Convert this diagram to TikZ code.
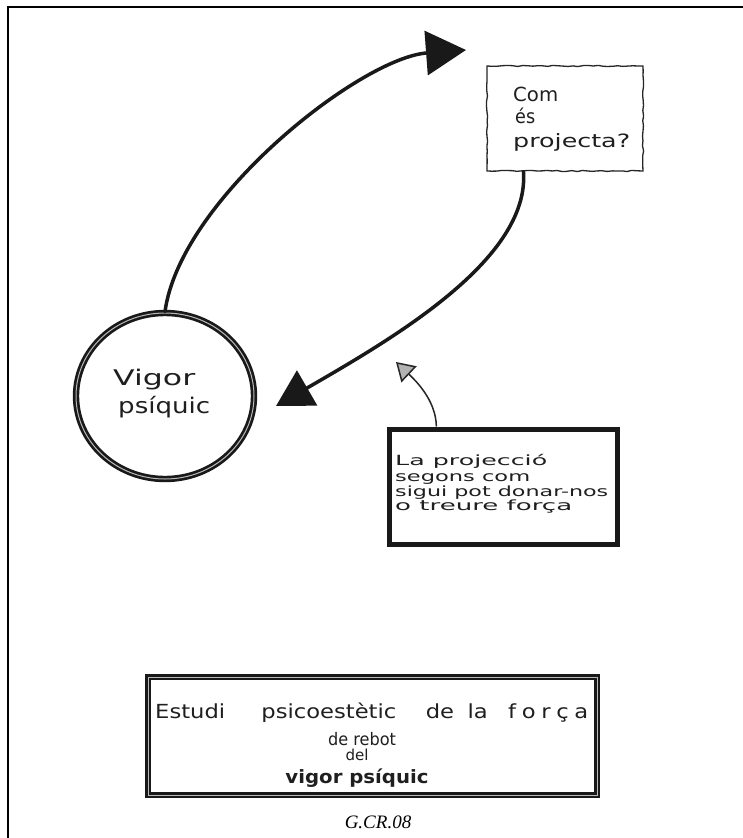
\documentclass[tikz,border=0pt]{standalone}
\usepackage{fontspec}
\newfontfamily\hand{DejaVu Sans}
\newfontfamily\captionfont{Liberation Serif}
\usetikzlibrary{arrows.meta,shapes.geometric,decorations.pathmorphing}
% text scaled to a given width W and a given height H (height of an accented capital)
\newcommand{\fitwh}[3]{\resizebox{#1}{#2}{\hand\fontsize{10}{12}\selectfont\vphantom{É}#3}}
\newcommand{\fitwhb}[3]{\resizebox{#1}{#2}{\hand\bfseries\fontsize{10}{12}\selectfont\vphantom{É}#3}}
\tikzset{
  inkline/.style={draw=black!90, line width=3.5pt, line cap=round},
  bigarrow/.style={-{Triangle[length=40pt,width=44pt]}},
  rarrow/.style={-{Triangle[length=36pt,width=40pt]}},
  smallarrow/.style={draw=black!85, line width=1.5pt, -{Triangle[length=18pt,width=22pt,fill=gray!60]}},
  thinbox/.style={draw=black!85, line width=1.3pt, inner sep=0pt, decorate,
    decoration={random steps, segment length=5pt, amplitude=0.6pt}},
  thickbox/.style={draw=black!90, line width=5pt, inner sep=0pt},
  doublebox/.style={draw=black!90, line width=2.7pt, double=gray!55, double distance=1pt, inner sep=0pt},
  handtext/.style={anchor=base west, inner sep=0pt, text=black!88},
}
\begin{document}
\begin{tikzpicture}[x=1pt,y=-1pt]
\useasboundingbox (0,0) rectangle (743,838);
\fill[white] (0,0) rectangle (743,838);
% frame
\draw[line width=1.6pt] (8,838) -- (8,7) -- (743,7);

% nodes
\node[ellipse, doublebox, minimum width=178pt, minimum height=166pt] (vigor) at (165,396) {};
\node[thinbox, minimum width=156pt, minimum height=105pt] (com) at (565,118.5) {};
\node[thickbox, minimum width=228pt, minimum height=115pt] (proj) at (503,486.5) {};
\node[doublebox, minimum width=449pt, minimum height=118pt] (title) at (372.5,736) {};

% free ends
\coordinate (tipA) at (466,50);
\coordinate (tipB) at (276,406);
\coordinate (tipC) at (396,362);

% connectors
\draw[inkline, bigarrow] (vigor.north) .. controls (180,200) and (360,58) .. (tipA);
\draw[inkline, rarrow] (com.-128) .. controls (530,260) and (390,340) .. (tipB);
\draw[smallarrow] (proj.138) .. controls (436,400) and (415,380) .. (tipC);

% texts in the circle
\node[handtext] (t1) at (113,385) {\fitwh{82pt}{20pt}{Vigor}};
\node[handtext] (t2) at (118,413) {\fitwh{92pt}{20pt}{psíquic}};

% texts in the question box
\node[handtext] (t3) at (513,101) {\fitwh{45pt}{18pt}{Com}};
\node[handtext] (t4) at (515,123) {\fitwh{20pt}{18pt}{és}};
\node[handtext] (t5) at (513,147) {\fitwh{117pt}{17pt}{projecta?}};

% texts in the projection box
\node[handtext] (t6) at (395,465) {\fitwh{152pt}{13pt}{La projecció}};
\node[handtext] (t7) at (395,481) {\fitwh{135pt}{13pt}{segons com}};
\node[handtext] (t8) at (395,496) {\fitwh{213pt}{13pt}{sigui pot donar-nos}};
\node[handtext] (t9) at (395,510) {\fitwh{177pt}{13pt}{o treure força}};

% title box
\node[handtext] (t10) at (155,718) {\fitwh{433pt}{18pt}{Estudi\hspace{1.6em}psicoestètic\hspace{1.3em}de\hspace{0.6em}la\hspace{0.9em}f\kern0.25em o\kern0.25em r\kern0.25em ç\kern0.25em a}};
\node[handtext, anchor=base] (t11) at (362,745) {\fitwh{68pt}{16pt}{de rebot}};
\node[handtext, anchor=base] (t12) at (357,760) {\fitwh{23pt}{14pt}{del}};
\node[handtext, anchor=base] (t13) at (357,783) {\fitwhb{143pt}{17pt}{vigor psíquic}};

\node[anchor=base, inner sep=0pt, font={\captionfont\itshape\fontsize{19}{21}\selectfont}] (code) at (378,828) {G.CR.08};
\end{tikzpicture}
\end{document}
